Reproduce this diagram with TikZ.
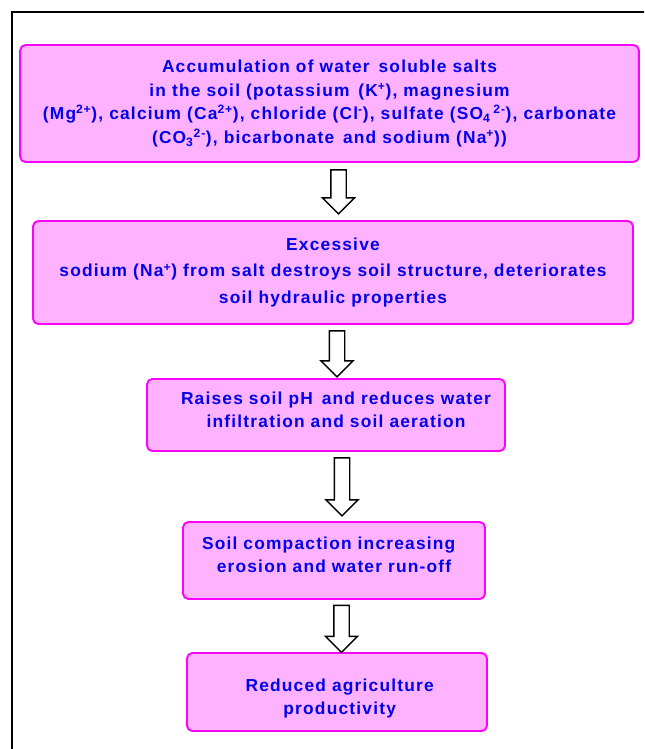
\documentclass[tikz,border=0pt]{standalone}
\usepackage{fontspec}
\setmainfont{Liberation Sans}[LetterSpace=7]
\usepackage{xcolor}
\usetikzlibrary{shapes.arrows, positioning, calc}

\definecolor{boxpink}{RGB}{255,178,255}
\definecolor{boxedge}{RGB}{255,0,255}
\definecolor{textblue}{RGB}{0,0,235}

\begin{document}
\begin{tikzpicture}[
    x=0.75pt, y=-0.75pt,
    block/.style={rectangle, draw=boxedge, fill=boxpink, line width=1.4pt, rounded corners=4pt, inner sep=0pt, align=center, text=textblue, font=\fontsize{13}{17.6}\selectfont\bfseries},
    flowarrow/.style={single arrow, draw=black, fill=white, line width=1.1pt, rotate=-90, inner sep=0pt, text height=10.5pt, text depth=0pt, text width=0pt, single arrow head extend=6.2pt}
]

    % page and frame
    \clip (0,0) rectangle (644,749);
    \draw [line width=1.1pt] (12,760) |- (660,12);

    % Boxes
    \node [block, minimum width=464pt, minimum height=87.75pt] (salts) at (329.5,103.5)
        {Accumulation of water\, soluble salts\\
         in the soil (potassium\, (K\textsuperscript{+}), magnesium\\
         (Mg\textsuperscript{2+}), calcium (Ca\textsuperscript{2+}), chloride (Cl\textsuperscript{-}), sulfate (SO\textsubscript{4}\,\textsuperscript{2-}), carbonate\\
         (CO\textsubscript{3}\textsuperscript{2-}), bicarbonate\, and sodium (Na\textsuperscript{+}))};
    \node [block, minimum width=450pt, minimum height=77.25pt, font=\fontsize{13}{20}\selectfont\bfseries] (sodium) at (333,272.5)
        {Excessive\\
         sodium (Na\textsuperscript{+}) from salt destroys soil structure, deteriorates\\
         soil hydraulic properties};
    \node [block, minimum width=268.5pt, minimum height=54pt] (ph) at (326,415)
        {\hspace*{15pt}Raises soil pH\, and reduces water\\
         \hspace*{15pt}infiltration and soil aeration\\[-10pt]};
    \node [block, minimum width=226.5pt, minimum height=57.75pt] (compact) at (334,560.5)
        {Soil compaction increasing\hspace*{8pt}\\
         erosion and water run-off\hspace*{8pt}\\[-8.6pt]};
    \node [block, minimum width=225pt, minimum height=58.5pt] (yield) at (337,692)
        {\hspace*{4pt}Reduced agriculture\\
         \hspace*{4pt}productivity\\[-25pt]};

    % Arrows
    \node [flowarrow, minimum height=33pt] (arr1) at ($(salts.south)!0.5!(sodium.north)+(7.25,-3.5)$) {};
    \node [flowarrow, minimum height=34.5pt] (arr2) at ($(sodium.south)!0.5!(ph.north)+(7.5,-1.5)$) {};
    \node [flowarrow, minimum height=43.5pt] (arr3) at ($(ph.south)!0.5!(compact.north)+(12,-3.5)$) {};
    \node [flowarrow, minimum height=35.25pt] (arr4) at ($(compact.south)!0.5!(yield.north)+(6,-1)$) {};

\end{tikzpicture}
\end{document}
